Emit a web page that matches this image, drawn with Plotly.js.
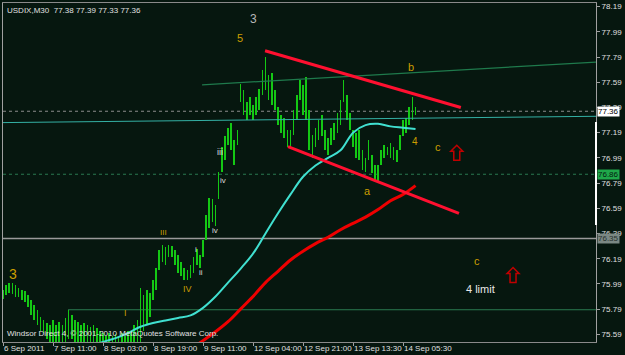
<!DOCTYPE html>
<html><head><meta charset="utf-8">
<script src="https://cdn.plot.ly/plotly-3.0.1.min.js"></script>
<style>html,body{margin:0;padding:0;background:#06170f;}#chart{width:625px;height:355px;}</style>
</head><body><div id="chart"></div>
<script>
// ---- data (bar index = M30 bar number, sampled every 2 bars) ----
const barStep = 2;
const highs = [75.94,75.98,76.00,76.00,75.98,75.96,75.94,75.93,75.90,75.86,
75.82,75.78,75.73,75.70,75.68,75.66,75.70,75.66,75.69,75.66,
75.72,75.78,75.74,75.70,75.69,75.66,75.68,75.66,75.65,75.66,
75.64,75.62,75.60,75.58,75.60,75.58,75.59,75.57,75.60,75.58,
75.62,75.60,75.66,75.70,75.96,75.90,75.94,75.92,76.02,76.12,
76.26,76.30,76.28,76.30,76.29,76.26,76.22,76.16,76.12,76.10,
76.14,76.20,76.27,76.22,76.34,76.54,76.67,76.66,76.62,76.88,
77.08,77.16,77.23,77.27,77.13,77.21,77.58,77.53,77.43,77.47,
77.41,77.47,77.54,77.69,77.79,77.65,77.66,77.53,77.39,77.33,
77.31,77.21,77.21,77.37,77.49,77.61,77.57,77.63,77.37,77.17,
77.23,77.29,77.33,77.21,77.15,77.23,77.27,77.35,77.45,77.61,
77.49,77.35,77.21,77.19,77.21,77.05,76.99,77.13,77.01,76.93,
76.93,77.05,77.09,77.08,77.11,77.08,77.05,77.17,77.29,77.31,
77.39,77.47,77.39];
const lows = [75.87,75.90,75.92,75.91,75.89,75.89,75.86,75.85,75.81,75.74,
75.70,75.66,75.62,75.60,75.55,75.51,75.51,75.51,75.51,75.51,
75.51,75.55,75.55,75.53,75.51,75.51,75.51,75.51,75.51,75.51,
75.51,75.51,75.51,75.51,75.51,75.51,75.51,75.51,75.51,75.51,
75.51,75.51,75.51,75.51,75.53,75.62,75.66,75.73,75.86,75.94,
76.10,76.16,76.14,76.20,76.20,76.14,76.08,76.05,76.02,76.02,
76.04,76.08,76.14,76.12,76.20,76.34,76.43,76.48,76.45,76.66,
76.88,76.97,77.09,77.05,76.93,77.09,77.43,77.33,77.29,77.33,
77.29,77.33,77.37,77.49,77.53,77.45,77.41,77.37,77.25,77.19,
77.15,77.08,77.07,77.17,77.29,77.45,77.33,77.29,77.05,76.99,
77.08,77.13,77.16,77.05,77.01,77.09,77.13,77.19,77.25,77.43,
77.29,77.21,77.08,76.99,76.97,76.89,76.88,76.97,76.87,76.81,
76.80,76.93,76.99,77.01,76.99,76.97,76.96,77.05,77.16,77.19,
77.25,77.29,77.33];

const fastBars = [56,64,72,80,88,96,104,112,120,128,136,144,152,160,168,176,184,192,200,208,216,224,232,240,248,256,264];
const fastMA   = [75.50,75.53,75.56,75.60,75.65,75.68,75.70,75.72,75.74,75.80,75.89,76.00,76.11,76.23,76.39,76.55,76.70,76.84,76.93,76.99,77.05,77.19,77.25,77.26,77.24,77.23,77.22];
const slowBars = [120,128,136,144,152,160,168,176,184,192,200,208,216,224,232,240,248,256,264];
const slowMA   = [75.47,75.54,75.61,75.69,75.79,75.89,76.00,76.09,76.18,76.25,76.31,76.36,76.42,76.47,76.52,76.58,76.65,76.70,76.77];

const upperTrendBars = [167.7, 293];   const upperTrend = [77.84, 77.39];
const lowerTrendBars = [182.4, 291.8]; const lowerTrend = [77.08, 76.55];
const channelBars = [127.4, 379.5];    const channelLine = [77.57, 77.75];
const tealBars = [0, 379.5];           const tealLine = [77.27, 77.32];
const supportStartBar = 41.6;

const bidPrice = 77.36, greenLevel = 76.86, grayLevel = 76.35, lowLevel = 75.785;
const tickBars = [0,32,64,96,128,160,192,224,256];
const tickLabels = ['6 Sep 2011','7 Sep 11:00','8 Sep 03:00','8 Sep 19:00','9 Sep 11:00','12 Sep 04:00','12 Sep 21:00','13 Sep 13:30','14 Sep 05:30'];
const priceTicks = [75.59,75.79,75.99,76.19,76.39,76.59,76.79,76.99,77.19,77.39,77.59,77.79,77.99,78.19];

const waveLabels = [
  {t:'3', b:160, p:78.09, c:'#b8b8b8', s:12},
  {t:'5', b:151.7, p:77.94, c:'#cc9e00', s:11},
  {t:'b', b:261.1, p:77.71, c:'#cc9e00', s:11},
  {t:'c', b:278.4, p:77.08, c:'#cc9e00', s:11},
  {t:'4', b:263.7, p:77.12, c:'#cc9e00', s:10},
  {t:'a', b:233.4, p:76.73, c:'#cc9e00', s:11},
  {t:'iii', b:138.9, p:77.04, c:'#dcdcdc', s:9},
  {t:'iv', b:140.8, p:76.81, c:'#dcdcdc', s:8},
  {t:'iv', b:135.7, p:76.41, c:'#dcdcdc', s:8},
  {t:'III', b:102.4, p:76.40, c:'#cc9e00', s:8},
  {t:'i', b:123.5, p:76.26, c:'#dcdcdc', s:8},
  {t:'ii', b:126.7, p:76.08, c:'#dcdcdc', s:8},
  {t:'IV', b:117.8, p:75.95, c:'#cc9e00', s:9},
  {t:'I', b:78.7, p:75.76, c:'#cc9e00', s:9},
  {t:'3', b:6.4, p:76.07, c:'#cc9e00', s:14},
  {t:'c', b:303.4, p:76.17, c:'#cc9e00', s:11},
  {t:'4 limit', b:305.3, p:75.95, c:'#e8e8e8', s:11}
];
const arrowAt = [{b:290.4, p:77.03}, {b:326.4, p:76.06}];

// ---- build ----
const bx = highs.map((_, i) => i * barStep);
const traces = [
  {type:'bar', x:bx, base:lows, y:highs.map((h,i)=>h-lows[i]), width:1.0,
   marker:{color:'#14c814', line:{width:0}}, hoverinfo:'skip'},
  {type:'scatter', mode:'lines', x:tealBars, y:tealLine, line:{color:'#34b0a4', width:1}, hoverinfo:'skip'},
  {type:'scatter', mode:'lines', x:channelBars, y:channelLine, line:{color:'#1f7a4c', width:1.3}, hoverinfo:'skip'},
  {type:'scatter', mode:'lines', x:fastBars, y:fastMA, line:{color:'#40e0d0', width:2, shape:'spline'}, hoverinfo:'skip'},
  {type:'scatter', mode:'lines', x:slowBars, y:slowMA, line:{color:'#ee0000', width:3, shape:'spline'}, hoverinfo:'skip'},
  {type:'scatter', mode:'lines', x:upperTrendBars, y:upperTrend, line:{color:'#ff1030', width:3}, hoverinfo:'skip'},
  {type:'scatter', mode:'lines', x:lowerTrendBars, y:lowerTrend, line:{color:'#ff1030', width:3}, hoverinfo:'skip'}
];

const shapes = [
  {type:'line', xref:'paper', x0:0, x1:1, yref:'y', y0:bidPrice, y1:bidPrice, line:{color:'#8c8c8c', width:1, dash:'dot'}, layer:'below'},
  {type:'line', xref:'paper', x0:0, x1:1, yref:'y', y0:greenLevel, y1:greenLevel, line:{color:'#2a7a50', width:1, dash:'dot'}, layer:'below'},
  {type:'line', xref:'paper', x0:0, x1:1, yref:'y', y0:grayLevel, y1:grayLevel, line:{color:'#9a9a9a', width:1.5}, layer:'below'},
  {type:'line', xref:'x', x0:supportStartBar, x1:379.5, yref:'y', y0:lowLevel, y1:lowLevel, line:{color:'#2a7a50', width:1}, layer:'below'},
  {type:'line', xref:'paper', x0:1, x1:1, yref:'y', y0:77.275, y1:76.457, line:{color:'#ffffff', width:2}}
];
arrowAt.forEach(a => shapes.push({type:'path', xref:'x', yref:'y', xsizemode:'pixel', ysizemode:'pixel',
  xanchor:a.b, yanchor:a.p, path:'M0,7.5 L6,1.5 L3,1.5 L3,-7.5 L-3,-7.5 L-3,1.5 L-6,1.5 Z',
  line:{color:'#c00000', width:1.5}, fillcolor:'rgba(0,0,0,0)'}));

const font = 'Liberation Sans, Arial, sans-serif';
const annotations = waveLabels.map(l => ({x:l.b, y:l.p, xref:'x', yref:'y', text:l.t, showarrow:false,
  font:{family:font, size:l.s, color:l.c}}));
tickBars.forEach((b, i) => annotations.push({xref:'x', yref:'paper', x:b, y:0, xanchor:'left', yanchor:'top',
  xshift:-1, yshift:0, text:tickLabels[i], showarrow:false, font:{family:font, size:8, color:'#e0e0e0'}}));
annotations.push({xref:'paper', yref:'paper', x:0, y:1, xanchor:'left', yanchor:'top', xshift:2, yshift:-1,
  text:'USDIX,M30  77.38 77.39 77.33 77.36', showarrow:false, font:{family:font, size:8, color:'#e0e0e0'}});
annotations.push({xref:'paper', yref:'paper', x:0, y:0, xanchor:'left', yanchor:'bottom', xshift:2, yshift:2,
  text:'Windsor Direct 4, © 2001-2010 MetaQuotes Software Corp.', showarrow:false, font:{family:font, size:8, color:'#e0e0e0'}});
[[bidPrice,'77.36','#ffffff','#000000'],[greenLevel,'76.86','#1fa84a','#05200f'],[grayLevel,'76.35','#7b8884','#26302c']].forEach(r =>
  annotations.push({xref:'paper', yref:'y', x:1, y:r[0], xanchor:'left', xshift:1, text:r[1], showarrow:false,
    bgcolor:r[2], borderpad:0, font:{family:font, size:8, color:r[3]}}));

const layout = {
  width:625, height:355, margin:{l:3, r:29, t:3, b:13},
  paper_bgcolor:'#06170f', plot_bgcolor:'#06170f', showlegend:false,
  xaxis:{range:[0,379.5], tickvals:tickBars, showticklabels:false,
    ticks:'outside', ticklen:3, tickcolor:'#a0a0a0', showgrid:false, zeroline:false, showline:true,
    linecolor:'#8a8a8a', mirror:true, fixedrange:true},
  yaxis:{side:'right', range:[75.529,78.219], tickvals:priceTicks, tickformat:'.2f', ticks:'outside', ticklen:3,
    tickcolor:'#a0a0a0', showgrid:false, zeroline:false, showline:true, linecolor:'#a0a0a0', mirror:true,
    tickfont:{family:font, size:8, color:'#e0e0e0'}, fixedrange:true},
  shapes:shapes, annotations:annotations, bargap:0
};
Plotly.newPlot('chart', traces, layout, {staticPlot:true, displayModeBar:false});
</script></body></html>
